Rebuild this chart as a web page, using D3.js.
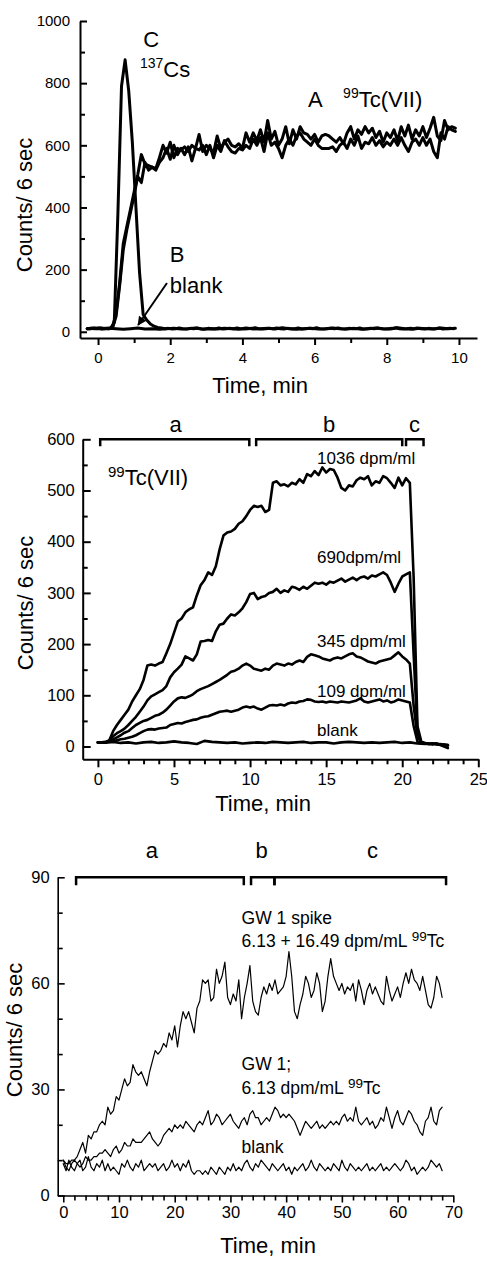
<!DOCTYPE html>
<html>
<head>
<meta charset="utf-8">
<script src="https://cdn.jsdelivr.net/npm/d3@7"></script>
<style>
  body { margin: 0; background: #fff; }
  svg { display: block; }
</style>
</head>
<body>
<svg id="chart" width="487" height="1262"></svg>
<script>
"use strict";

// ---- Panel 1: 137Cs / 99Tc(VII) / blank, counts every 0.1 min ----
const p1TcRunA = [
  10, 11, 10, 12, 10, 11, 10,
  15, 60, 160, 285, 340, 395, 450, 505, 570,
  540, 535, 530, 525, 560, 600, 575, 610,
  560, 590, 585, 595, 580, 600, 590, 635, 580, 600,
  590, 575, 630, 590, 610, 620, 600, 595, 605, 590,
  640, 610, 640, 615, 650, 610, 680, 620, 645, 600,
  620, 660, 605, 650, 620, 660, 640, 635, 620, 635,
  610, 630, 635, 630, 620, 610, 625, 605, 640, 660,
  620, 650, 635, 660, 640, 655, 625, 645, 610, 640,
  625, 650, 615, 660, 630, 665, 620, 650, 630, 660,
  625, 655, 690, 630, 615, 680, 650, 660, 655
];
const p1TcRunB = [
  10, 10, 11, 10, 12, 10, 10,
  12, 50, 150, 265, 330, 385, 440, 500, 480,
  545, 520, 530, 520, 545, 560, 590, 555,
  600, 570, 590, 570, 595, 550, 590, 585, 600, 570,
  600, 560, 600, 580, 615, 595, 580, 575, 590, 585,
  600, 590, 620, 600, 625, 580, 640, 600, 610, 590,
  560, 600, 620, 600, 630, 640, 620, 610, 600, 620,
  600, 590, 590, 590, 595, 580, 600, 610, 590, 620,
  600, 630, 590, 610, 605, 625, 600, 615, 595, 610,
  600, 620, 600, 625, 600, 580, 610, 620, 600, 625,
  600, 620, 580, 560, 640, 620, 660, 650, 645
];
const p1Cs = [
  10, 11, 10, 12, 10, 11, 12,
  30, 380, 790, 875, 775, 610, 400, 190, 55, 38, 25, 18, 14, 12,
  10, 11, 9, 10, 12, 10, 9, 11, 10, 12,
  10, 9, 11, 10, 10, 12, 9, 10, 11, 10,
  12, 10, 9, 10, 11, 13, 10, 9, 10, 11,
  10, 12, 10, 9, 11, 10, 10, 12, 9, 10,
  11, 10, 13, 10, 9, 10, 11, 10, 12, 10,
  9, 11, 10, 10, 12, 9, 10, 11, 10, 12,
  10, 9, 10, 11, 13, 10, 9, 10, 11, 10,
  12, 10, 9, 11, 10, 10, 12, 9, 10, 11,
  10
];
const p1Blank = [
  10, 12, 9, 11, 10, 8, 10, 12, 9, 10,
  8, 10, 11, 9, 10, 12, 8, 10, 9, 11,
  10, 8, 12, 9, 10, 11, 9, 13, 10, 8,
  10, 11, 9, 10, 12, 10, 9, 11, 8, 10,
  12, 10, 9, 13, 10, 8, 11, 10, 9, 12,
  10, 11
];

// ---- Panel 2: 99Tc(VII) standards, sampled every 0.25 min ----
const p2Tc1036 = [
  8, 8, 9, 12, 30, 42, 52, 62, 72, 88,
  100, 112, 130, 158, 160, 158, 162, 165, 182, 200,
  222, 244, 250, 262, 268, 272, 295, 315, 325, 340,
  335, 352, 385, 412, 418, 420, 425, 435, 440, 450,
  462, 470, 468, 470, 458, 462, 515, 518, 510, 512,
  508, 515, 512, 522, 515, 532, 528, 538, 530, 545,
  535, 542, 540, 525, 505, 500, 510, 508, 520, 525,
  522, 528, 510, 518, 515, 528, 524, 515, 505, 525,
  510, 524, 515, 330, 40, 10, 6, 5, 4, 6,
  3, 0, -3
];
const p2Tc690 = [
  8, 8, 8, 12, 20, 26, 30, 35, 42, 50,
  58, 68, 78, 90, 98, 102, 106, 110, 118, 135,
  145, 152, 160, 176, 172, 168, 180, 205, 206, 208,
  206, 225, 238, 240, 250, 258, 256, 262, 270, 282,
  298, 300, 288, 292, 294, 300, 302, 308, 300, 305,
  302, 312, 310, 306, 312, 308, 314, 320, 318, 320,
  316, 322, 320, 324, 328, 322, 326, 330, 325, 330,
  332, 328, 334, 332, 336, 340, 335, 320, 302, 318,
  332, 336, 340, 180, 30, 8, 7, 6, 5, 6,
  4, 3, 2
];
const p2Tc345 = [
  8, 8, 8, 10, 14, 18, 22, 27, 30, 36,
  42, 46, 50, 52, 56, 60, 62, 66, 72, 80,
  88, 94, 96, 95, 98, 102, 108, 112, 115, 118,
  122, 126, 130, 135, 140, 146, 148, 152, 158, 162,
  158, 152, 150, 148, 152, 150, 158, 162, 160, 158,
  162, 160, 165, 168, 165, 175, 180, 178, 176, 172,
  170, 168, 172, 174, 172, 176, 180, 182, 176, 174,
  170, 166, 164, 162, 166, 168, 170, 172, 178, 184,
  176, 170, 162, 80, 20, 8, 6, 5, 6, 4,
  5, 3, 2
];
const p2Tc109 = [
  8, 8, 8, 9, 10, 12, 14, 15, 17, 19,
  22, 26, 30, 33, 34, 33, 35, 36, 37, 42,
  44, 46, 45, 48, 50, 52, 53, 56, 58, 59,
  62, 65, 68, 69, 70, 68, 70, 72, 76, 78,
  76, 78, 74, 72, 76, 80, 81, 80, 82, 80,
  84, 86, 85, 88, 89, 92, 91, 88, 87, 88,
  86, 88, 87, 86, 88, 87, 86, 88, 90, 94,
  88, 86, 88, 90, 92, 88, 90, 86, 88, 92,
  90, 88, 86, 40, 10, 7, 6, 5, 6, 5,
  4, 4, 3
];
const p2Blank = [
  8, 8, 9, 7, 8, 6, 8, 9, 7, 8,
  10, 8, 7, 5, 11, 9, 8, 7, 8, 6,
  7, 8, 7, 9, 8, 7, 8, 9, 7, 8,
  8, 6, 8, 9, 8, 7, 8, 7, 8, 9,
  7, 8, 6, 5, 6, 4, 3
];

// ---- Panel 3: groundwater GW 1, sampled every 0.5 min ----
const p3Spike = [
  10, 9, 9, 10, 10, 11, 13, 15, 12, 17,
  16, 18, 18, 20, 21, 20, 25, 23, 24, 28,
  27, 30, 33, 31, 32, 37, 35, 34, 35, 33,
  31, 35, 38, 41, 40, 41, 43, 42, 46, 44,
  48, 42, 48, 52, 50, 52, 49, 46, 53, 55,
  61, 60, 61, 55, 56, 64, 60, 62, 66, 56,
  54, 57, 55, 61, 50, 56, 60, 65, 55, 52,
  51, 56, 59, 57, 60, 58, 61, 57, 58, 59,
  62, 69, 62, 52, 50, 54, 57, 62, 60, 56,
  58, 63, 60, 52, 55, 62, 67, 62, 60, 58,
  60, 57, 59, 58, 60, 55, 61, 58, 54, 58,
  60, 57, 59, 57, 55, 54, 62, 58, 55, 57,
  59, 56, 60, 63, 60, 64, 61, 60, 58, 62,
  58, 54, 53, 56, 62, 60, 56
];
const p3GW1 = [
  10, 8, 7, 9, 10, 9, 8, 9, 11, 10,
  10, 11, 11, 12, 12, 13, 12, 11, 13, 14,
  12, 13, 15, 14, 14, 16, 15, 15, 15, 16,
  17, 18, 16, 15, 14, 15, 17, 18, 19, 18,
  20, 19, 20, 19, 21, 20, 19, 18, 20, 21,
  20, 22, 24, 20, 21, 23, 22, 20, 21, 22,
  23, 21, 20, 19, 21, 22, 20, 23, 24, 22,
  22, 20, 21, 22, 21, 23, 25, 24, 22, 23,
  22, 23, 22, 21, 19, 17, 19, 21, 20, 19,
  20, 21, 19, 20, 19, 20, 21, 20, 21, 20,
  22, 23, 21, 22, 21, 25, 21, 20, 21, 22,
  20, 21, 19, 20, 22, 21, 25, 22, 19, 22,
  24, 21, 20, 22, 24, 23, 21, 20, 18, 17,
  21, 22, 25, 21, 20, 24, 25
];
const p3Blank = [
  9, 7, 10, 8, 7, 9, 10, 7, 8, 11,
  8, 7, 9, 8, 10, 7, 9, 7, 8, 7,
  6, 9, 8, 10, 8, 7, 9, 8, 10, 7,
  8, 9, 8, 9, 7, 8, 9, 7, 8, 10,
  8, 9, 7, 9, 8, 10, 7, 6, 7, 7,
  6, 7, 6, 8, 7, 6, 8, 7, 6, 8,
  7, 9, 7, 8, 7, 9, 10, 8, 7, 9,
  8, 10, 9, 8, 7, 9, 8, 7, 8, 9,
  7, 8, 6, 8, 7, 8, 9, 7, 8, 10,
  8, 7, 9, 8, 7, 8, 7, 9, 8, 7,
  10, 8, 7, 9, 8, 7, 8, 7, 8, 9,
  7, 8, 7, 8, 9, 7, 8, 7, 8, 9,
  8, 7, 8, 10, 9, 7, 8, 6, 7, 8,
  7, 8, 10, 9, 8, 9, 7
];

// Tick values
const p1XTicks = [0, 2, 4, 6, 8, 10];
const p1XMinor = [1, 3, 5, 7, 9];
const p1YTicks = [0, 200, 400, 600, 800, 1000];
const p1YMinor = [100, 300, 500, 700, 900];
const p2XTicks = [0, 5, 10, 15, 20, 25];
const p2XMinor = d3.range(1, 25).filter(d => d % 5 !== 0);
const p2YTicks = [0, 100, 200, 300, 400, 500, 600];
const p2YMinor = [50, 150, 250, 350, 450, 550];
const p3XTicks = [0, 10, 20, 30, 40, 50, 60, 70];
const p3XMinor = d3.range(2, 70, 2).filter(d => d % 10 !== 0);
const p3YTicks = [0, 30, 60, 90];
const p3YMinor = [10, 20, 40, 50, 70, 80];

// Brackets marking the a / b / c phases
const p2Brackets = [
  { label: "a", from: 0.15, to: 9.95, at: 5.1 },
  { label: "b", from: 10.4, to: 20.0, at: 15.2 },
  { label: "c", from: 20.25, to: 21.4, at: 20.8 }
];
const p3Brackets = [
  { label: "a", from: 2.3, to: 32.4, at: 15.9 },
  { label: "b", from: 33.7, to: 37.9, at: 35.6 },
  { label: "c", from: 37.9, to: 68.7, at: 55.5 }
];

const FONT = "'Liberation Sans', Arial, Helvetica, sans-serif";
const svg = d3.select("#chart");

svg.append("defs").append("marker")
    .attr("id", "arrowHead")
    .attr("viewBox", "0 0 10 10")
    .attr("refX", 9)
    .attr("refY", 5)
    .attr("markerWidth", 5)
    .attr("markerHeight", 4.5)
    .attr("orient", "auto")
  .append("path")
    .attr("d", "M0,0L10,5L0,10z")
    .attr("fill", "#000");

// Draws axes and traces of one panel, returns its scales and group.
function drawPanel(opt) {
    let g = svg.append("g");

    let x = d3.scaleLinear().domain(opt.xDomain).range(opt.xRange);
    let y = d3.scaleLinear().domain(opt.yDomain).range(opt.yRange);
    let fmt = d3.format("d");

    // X axis (ticks point out)
    let gx = g.append("g").attr("transform", "translate(0," + opt.yRange[0] + ")");
    gx.append("g")
        .call(d3.axisBottom(x).tickValues(opt.xMinor).tickSize(opt.minorLen).tickFormat("").tickSizeOuter(0))
        .call(s => s.select(".domain").remove());
    gx.append("g")
        .call(d3.axisBottom(x).tickValues(opt.xTicks).tickSize(opt.majorLen)
            .tickPadding(opt.xPad).tickFormat(fmt).tickSizeOuter(0));

    // Y axis (ticks point in)
    let gy = g.append("g").attr("transform", "translate(" + opt.xRange[0] + ",0)");
    gy.append("g")
        .call(d3.axisLeft(y).tickValues(opt.yMinor).tickSize(-opt.minorLen).tickFormat("").tickSizeOuter(0))
        .call(s => s.select(".domain").remove());
    gy.append("g")
        .call(d3.axisLeft(y).tickValues(opt.yTicks).tickSize(-opt.majorLen)
            .tickPadding(opt.yPad).tickFormat(fmt).tickSizeOuter(0));

    g.selectAll(".domain").attr("stroke-width", opt.axisWidth);
    g.selectAll(".tick line").attr("stroke-width", opt.axisWidth);
    g.selectAll(".tick text")
        .attr("font-family", FONT)
        .attr("font-size", opt.tickFont)
        .attr("fill", "#000");

    // Traces
    opt.series.forEach(function(s) {
        let line = d3.line()
            .x((v, i) => x(s.start + i * s.step))
            .y(v => y(v));
        g.append("path")
            .datum(s.values)
            .attr("d", line)
            .attr("fill", "none")
            .attr("stroke", "#000")
            .attr("stroke-width", opt.lineWidth)
            .attr("stroke-linejoin", "round")
            .attr("stroke-linecap", "round");
    });

    // Axis titles
    g.append("text")
        .attr("transform", "translate(" + opt.yTitle[0] + "," + opt.yTitle[1] + ") rotate(-90)")
        .attr("text-anchor", "middle")
        .attr("font-family", FONT)
        .attr("font-size", 22)
        .text("Counts/ 6 sec");
    g.append("text")
        .attr("x", opt.xTitle[0])
        .attr("y", opt.xTitle[1])
        .attr("text-anchor", "middle")
        .attr("font-family", FONT)
        .attr("font-size", 22)
        .text("Time, min");

    return { g: g, x: x, y: y };
}

// Text made of normal and superscript runs.
function label(g, px, py, size, parts, supSize, supRise) {
    let t = g.append("text")
        .attr("x", px)
        .attr("y", py)
        .attr("font-family", FONT)
        .attr("font-size", size)
        .attr("fill", "#000");
    let raised = false;
    parts.forEach(function(p) {
        let ts = t.append("tspan").text(p.text);
        if (p.sup && !raised) {
            ts.attr("font-size", supSize).attr("dy", -supRise);
            raised = true;
        } else if (!p.sup && raised) {
            ts.attr("dy", supRise);
            raised = false;
        }
    });
    return t;
}

function brackets(p, list, level, tick, labelLevel) {
    list.forEach(function(b) {
        let y0 = p.y(level);
        p.g.append("path")
            .attr("d", "M" + p.x(b.from) + "," + (y0 + tick) + "V" + y0 +
                "H" + p.x(b.to) + "V" + (y0 + tick))
            .attr("fill", "none")
            .attr("stroke", "#000")
            .attr("stroke-width", 2.5);
        p.g.append("text")
            .attr("x", p.x(b.at))
            .attr("y", p.y(labelLevel))
            .attr("text-anchor", "middle")
            .attr("font-family", FONT)
            .attr("font-size", 22)
            .text(b.label);
    });
}

// ---------- Panel 1 ----------
let p1 = drawPanel({
    xDomain: [-0.5, 10.5], xRange: [80, 477],
    yDomain: [-20, 1000], yRange: [338, 21],
    xTicks: p1XTicks, xMinor: p1XMinor, yTicks: p1YTicks, yMinor: p1YMinor,
    majorLen: 7, minorLen: 5, xPad: 7, yPad: 10,
    axisWidth: 2, tickFont: 15, lineWidth: 3,
    yTitle: [32, 205], xTitle: [260, 393],
    series: [
        { values: p1Blank, start: -0.3, step: 0.2 },
        { values: p1Cs, start: -0.25, step: 0.1 },
        { values: p1TcRunB, start: -0.3, step: 0.1 },
        { values: p1TcRunA, start: -0.3, step: 0.1 }
    ]
});
label(p1.g, p1.x(1.25), p1.y(916), 22, [{ text: "C" }]);
label(p1.g, p1.x(1.16), p1.y(820), 22, [{ text: "137", sup: true }, { text: "Cs" }], 14, 9);
label(p1.g, p1.x(5.82), p1.y(723), 22, [{ text: "A" }]);
label(p1.g, p1.x(6.79), p1.y(723), 22, [{ text: "99", sup: true }, { text: "Tc(VII)" }], 14, 9);
label(p1.g, p1.x(1.99), p1.y(225), 22, [{ text: "B" }]);
label(p1.g, p1.x(1.99), p1.y(125), 22, [{ text: "blank" }]);
p1.g.append("line")
    .attr("x1", p1.x(1.91)).attr("y1", p1.y(157))
    .attr("x2", p1.x(1.11)).attr("y2", p1.y(22))
    .attr("stroke", "#000")
    .attr("stroke-width", 2)
    .attr("marker-end", "url(#arrowHead)");

// ---------- Panel 2 ----------
let p2 = drawPanel({
    xDomain: [-1, 25], xRange: [82.7, 478.3],
    yDomain: [-25, 600], yRange: [759.3, 439.3],
    xTicks: p2XTicks, xMinor: p2XMinor, yTicks: p2YTicks, yMinor: p2YMinor,
    majorLen: 8, minorLen: 5, xPad: 6, yPad: 8,
    axisWidth: 2, tickFont: 16.5, lineWidth: 2.6,
    yTitle: [33, 603], xTitle: [263, 811],
    series: [
        { values: p2Blank, start: 0, step: 0.5 },
        { values: p2Tc109, start: 0, step: 0.25 },
        { values: p2Tc345, start: 0, step: 0.25 },
        { values: p2Tc690, start: 0, step: 0.25 },
        { values: p2Tc1036, start: 0, step: 0.25 }
    ]
});
brackets(p2, p2Brackets, 600, 7, 615);
label(p2.g, p2.x(0.66), p2.y(511), 22, [{ text: "99", sup: true }, { text: "Tc(VII)" }], 15, 8);
label(p2.g, p2.x(14.4), p2.y(551), 17, [{ text: "1036 dpm/ml" }]);
label(p2.g, p2.x(14.4), p2.y(359), 17, [{ text: "690dpm/ml" }]);
label(p2.g, p2.x(14.4), p2.y(195), 17, [{ text: "345 dpm/ml" }]);
label(p2.g, p2.x(14.4), p2.y(97), 17, [{ text: "109 dpm/ml" }]);
label(p2.g, p2.x(14.4), p2.y(20.5), 17, [{ text: "blank" }]);

// ---------- Panel 3 ----------
let p3 = drawPanel({
    xDomain: [-1, 70], xRange: [57.7, 453.3],
    yDomain: [0, 90], yRange: [1195.5, 877.3],
    xTicks: p3XTicks, xMinor: p3XMinor, yTicks: p3YTicks, yMinor: p3YMinor,
    majorLen: 7, minorLen: 5, xPad: 4, yPad: 8,
    axisWidth: 1.6, tickFont: 16.5, lineWidth: 1.2,
    yTitle: [22, 1030], xTitle: [268, 1253],
    series: [
        { values: p3Blank, start: 0, step: 0.5 },
        { values: p3GW1, start: 0, step: 0.5 },
        { values: p3Spike, start: 0, step: 0.5 }
    ]
});
brackets(p3, p3Brackets, 90, 8, 95.5);
label(p3.g, p3.x(32), p3.y(76.8), 17.5, [{ text: "GW 1 spike" }]);
label(p3.g, p3.x(32), p3.y(70.3), 17.5,
    [{ text: "6.13 + 16.49 dpm/mL " }, { text: "99", sup: true }, { text: "Tc" }], 13.5, 6);
label(p3.g, p3.x(32), p3.y(35.5), 17.5, [{ text: "GW 1;" }]);
label(p3.g, p3.x(32), p3.y(28.7), 17.5,
    [{ text: "6.13 dpm/mL " }, { text: "99", sup: true }, { text: "Tc" }], 13.5, 6);
label(p3.g, p3.x(32), p3.y(12), 17.5, [{ text: "blank" }]);
</script>
</body>
</html>
